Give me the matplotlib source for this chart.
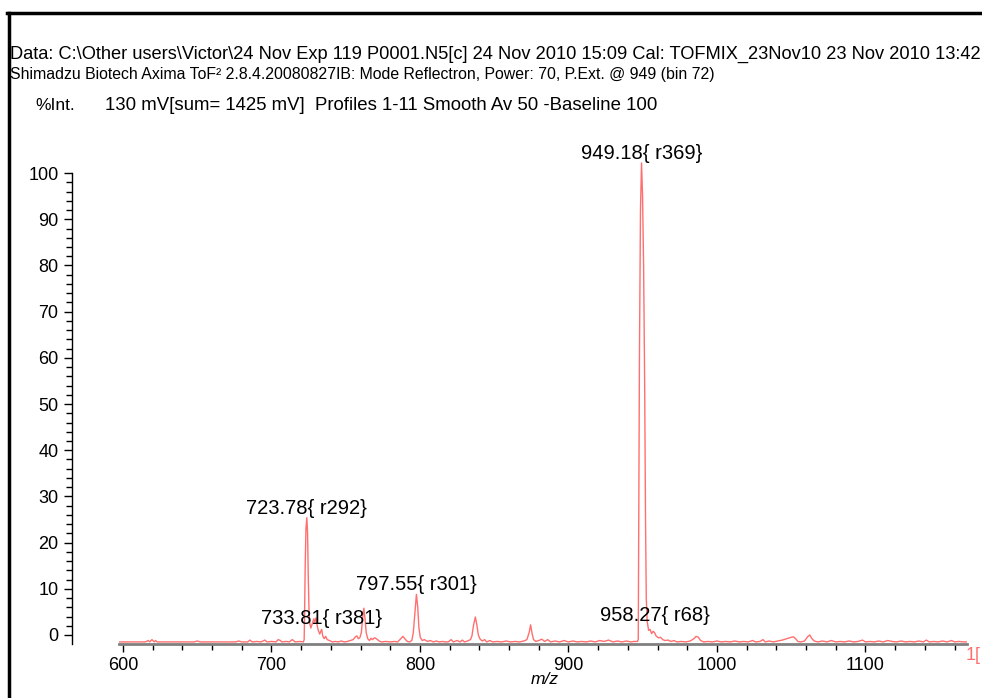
import matplotlib
matplotlib.use("Agg")
import matplotlib.pyplot as plt
from matplotlib.lines import Line2D
from matplotlib.ticker import MultipleLocator, FixedLocator

# spectrum (m/z, %Int on the axis scale)
mz = [597, 600, 605, 610, 615, 617, 618, 619.5, 621, 622, 623, 630, 640, 648, 650, 652, 660, 670, 676, 678,
      680, 684, 685.5, 687, 690, 693, 695.5, 697, 700, 703, 704.5, 706, 707, 710, 712, 714, 716, 719, 721.5,
      722.0, 722.3, 722.7, 723.2, 723.8, 724.3, 724.8, 725.3, 725.8, 726.5, 727.5, 728.5, 729.2, 730, 730.8,
      731.5, 732.5, 733.2, 733.8, 734.5, 735.5, 736.5, 737.5, 739, 741, 743, 745, 747, 749, 751, 753, 755,
      756.5, 757.5, 758.5, 759.5, 760.5, 761.5, 762.2, 763, 763.8, 764.8, 766, 767, 768, 769.5, 771, 772.5,
      774, 777, 780, 783, 785, 787, 788.5, 790, 791.5, 793, 794.5, 795.5, 796.5, 797.6, 798.5, 799.3, 800.2,
      801.5, 803, 805, 807, 809, 811, 813, 815, 817, 819, 821, 822.5, 825, 827, 828.5, 830, 832, 834, 835,
      836, 837.3, 838.3, 839.3, 840.5, 842, 843.5, 845, 847, 849, 852, 855, 858, 861, 864, 867, 870, 872,
      873.5, 874.5, 875.5, 876.5, 878, 880, 882, 884, 886, 888, 891, 894, 897, 900, 903, 906, 909, 912, 915,
      918, 921, 924, 927, 930, 933, 936, 939, 942, 944, 946.5,
      947.0, 947.3, 947.8, 948.5, 949.2, 949.9, 950.6, 951.3, 951.9, 952.4, 953, 954, 955, 956,
      957, 958, 959, 960.5, 962, 963.5, 965, 967, 969, 971, 973, 976, 979, 982, 984.5, 986, 987.5, 989, 991,
      994, 997, 1000, 1003, 1006, 1009, 1012, 1015, 1018, 1021, 1024, 1026, 1029, 1031, 1032.5, 1035, 1038,
      1041, 1044, 1046, 1048, 1050, 1051.5, 1053, 1054.5, 1056.5, 1059, 1061, 1062.5, 1064, 1065.5, 1068,
      1071, 1074, 1077, 1080, 1083, 1086, 1089, 1092, 1095, 1098, 1100, 1103, 1106, 1109, 1112, 1115, 1118,
      1121, 1124, 1127, 1130, 1133, 1136, 1139, 1141, 1143, 1146, 1149, 1152, 1155, 1158, 1160, 1163, 1166,
      1168]
intensity = [-1.5, -1.5, -1.5, -1.5, -1.5, -1.2, -1.5, -1.0, -1.5, -1.2, -1.5, -1.5, -1.5, -1.5, -1.3, -1.5,
             -1.5, -1.5, -1.5, -1.3, -1.5, -1.5, -1.1, -1.5, -1.4, -1.5, -1.1, -1.5, -1.4, -1.5, -1.0, -1.2,
             -1.5, -1.4, -1.5, -1.0, -1.5, -1.4, -1.5,
             -1.0, 5, 15, 23, 25.4, 22, 12, 5, 2.5, 1.5, 2.5, 3.5, 2.8, 3.7, 2.0, 1.0, 0.2, 0.8, 1.2, -0.2, -0.8,
             -0.3, -1.0, -1.2, -1.5, -1.4, -1.5, -1.3, -1.5, -1.4, -1.2, -1.0, -0.4, -0.2, -0.8, -0.6, 0.5, 4.0,
             5.8, 3.5, 0.5, -0.8, -1.2, -0.7, -1.0, -0.6, -0.9, -1.3, -1.5, -1.4, -1.5, -1.4, -1.5, -0.8, -0.3,
             -0.9, -1.4, -1.5, -1.2, 0.5, 4.5, 8.8, 6.0, 1.5, -0.5, -1.2, -1.0, -1.4, -1.2, -1.5, -1.3, -1.5,
             -1.4, -1.5, -1.5, -1.0, -1.5, -1.2, -1.5, -1.1, -1.5, -1.3, -1.0, -0.2, 2.0, 3.9, 2.2, 0.0, -0.9,
             -1.3, -1.0, -1.5, -1.2, -1.5, -1.4, -1.5, -1.3, -1.5, -1.4, -1.5, -1.3, -1.0, 0.5, 2.2, 0.3, -1.0,
             -1.4, -1.2, -0.9, -1.4, -1.0, -1.5, -1.3, -1.5, -1.2, -1.5, -1.3, -1.5, -1.4, -1.5, -1.3, -1.5,
             -1.2, -1.4, -1.1, -1.5, -1.3, -1.5, -1.3, -1.5, -1.4, -1.4,
             -1.0, 20, 60, 92, 102.2, 95, 80, 55, 25, 8, 3.0, 1.0, 1.2, 0.3, 0.8, 0.5, -0.2, -0.6, -0.5,
             -1.0, -1.2, -1.1, -1.4, -1.2, -1.5, -1.4, -1.5, -1.3, -0.8, -0.3, -0.5, -1.2, -1.5, -1.4, -1.5,
             -1.3, -1.5, -1.4, -1.5, -1.3, -1.5, -1.4, -1.5, -1.2, -1.5, -1.4, -1.0, -1.5, -1.3, -1.5, -1.3,
             -1.1, -0.9, -0.7, -0.5, -0.4, -0.8, -1.4, -1.5, -1.3, -0.4, 0.0, -0.8, -1.3, -1.5, -1.3, -1.5,
             -1.2, -1.5, -1.4, -1.5, -1.3, -1.5, -1.4, -1.1, -1.5, -1.4, -1.5, -1.3, -1.5, -1.2, -1.4, -1.5,
             -1.3, -1.5, -1.4, -1.5, -1.3, -1.5, -1.1, -1.5, -1.4, -1.5, -1.3, -1.5, -1.2, -1.5, -1.4, -1.5,
             -1.5]

# peak annotations
peak_labels = ["949.18{ r369}", "723.78{ r292}", "797.55{ r301}", "733.81{ r381}", "958.27{ r68}"]
peak_mz = [949.2, 723.8, 797.6, 734.0, 957.9]
peak_y = [102.2, 25.4, 8.8, 1.5, 2.2]

header1 = ("Data: C:\\Other users\\Victor\\24 Nov Exp 119 P0001.N5[c] 24 Nov 2010 15:09 "
           "Cal: TOFMIX_23Nov10 23 Nov 2010 13:42")
header2 = "Shimadzu Biotech Axima ToF² 2.8.4.20080827IB: Mode Reflectron, Power: 70, P.Ext. @ 949 (bin 72)"
info = "130 mV[sum= 1425 mV]  Profiles 1-11 Smooth Av 50 -Baseline 100"

W, H = 982, 698
plt.rcParams['font.family'] = ['Liberation Sans', 'DejaVu Sans']
fig = plt.figure(figsize=(W / 100, H / 100), dpi=100)
fig.patch.set_facecolor('white')


def fx(px):
    return px / W


def fy(py):
    return 1 - py / H


ax = fig.add_axes([fx(119), fy(644), fx(967) - fx(119), fy(150) - fy(644)])
ax.plot(mz, intensity, color='#ff6f6f', lw=1.0)
ax.set_xlim(597.3, 1168.4)
ax.set_ylim(-1.95, 105)

for s in ['top', 'right']:
    ax.spines[s].set_visible(False)
ax.spines['bottom'].set_color('#808080')
ax.spines['bottom'].set_linewidth(2)
ax.spines['left'].set_position(('outward', 34))
ax.spines['left'].set_bounds(-1.95, 100)
ax.spines['left'].set_linewidth(1)

ax.xaxis.set_major_locator(MultipleLocator(100))
ax.xaxis.set_minor_locator(MultipleLocator(20))
ax.yaxis.set_major_locator(FixedLocator(range(0, 101, 10)))
ax.yaxis.set_minor_locator(FixedLocator(range(0, 101, 2)))
ax.tick_params(axis='both', which='major', labelsize=13, length=6, width=1)
ax.tick_params(axis='both', which='minor', length=4, width=1)
ax.tick_params(axis='x', pad=3)

for lab, x, y in zip(peak_labels, peak_mz, peak_y):
    ax.text(x, y, lab, ha='center', va='bottom', fontsize=14.5)

fig.text(fx(545), fy(680), "m/z", ha='center', va='center', fontsize=12.5, style='italic')
fig.text(fx(966), fy(655), "1[", ha='left', va='center', fontsize=13, color='#ff6f6f')

fig.text(fx(10), fy(54), header1, ha='left', va='center', fontsize=13.15)
fig.text(fx(10), fy(74), header2, ha='left', va='center', fontsize=11.4)
fig.text(fx(35), fy(105), "%Int.", ha='left', va='center', fontsize=12.5)
fig.text(fx(105), fy(105), info, ha='left', va='center', fontsize=13.4)

# frame lines at top and left
fig.add_artist(Line2D([fx(7), 1], [fy(13), fy(13)], color='black', lw=2.5))
fig.add_artist(Line2D([fx(9), fx(9)], [fy(13), 0], color='black', lw=2.5))

fig.savefig('out.png', dpi=100)
